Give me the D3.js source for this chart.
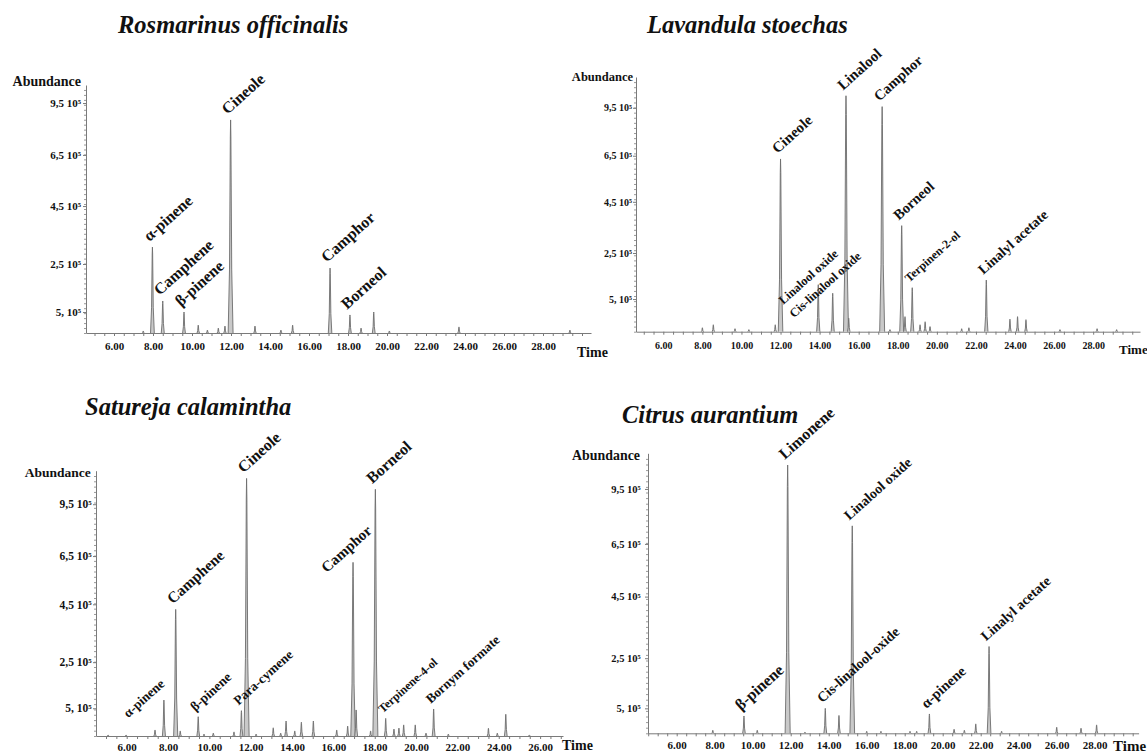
<!DOCTYPE html>
<html>
<head>
<meta charset="utf-8">
<script src="https://cdn.jsdelivr.net/npm/d3@7"></script>
<style>
  body { margin: 0; background: #fff; }
  svg { display: block; }
  text { font-family: "Liberation Serif", "Times New Roman", serif; font-weight: bold; fill: #111; }
</style>
</head>
<body>
<svg id="chart" width="1147" height="754"></svg>
<script>
// ---- Chromatogram peaks: retention time (min) and abundance ----
const rosmarinusTimes = [7.5, 7.97, 8.5, 9.59, 10.32, 10.79, 11.35, 11.69, 11.98, 13.23, 14.56, 15.16, 17.08, 18.1, 18.67, 19.32, 20.12, 23.69, 29.38];
const rosmarinusAbund = [9e3, 3.81e5, 1.42e5, 9.3e4, 3.5e4, 1.3e4, 2.2e4, 3.1e4, 9.45e5, 3.1e4, 1.3e4, 3.5e4, 2.88e5, 8.0e4, 2.2e4, 9.3e4, 9e3, 2.7e4, 1.3e4];
const rosmarinusCompounds = ["α-pinene", "Camphene", "β-pinene", "Cineole", "Camphor", "Borneol"];
const rosmarinusCompoundTimes = [7.97, 8.5, 9.59, 11.98, 17.08, 18.1];

const lavandulaTimes = [8.0, 8.56, 9.67, 10.38, 11.73, 12.0, 13.93, 14.67, 15.35, 15.49, 17.2, 17.6, 18.2, 18.37, 18.74, 19.14, 19.4, 19.65, 21.27, 21.64, 22.53, 23.74, 24.13, 24.56, 26.3, 28.2, 29.2];
const lavandulaAbund = [1.7e4, 3.0e4, 1.3e4, 9e3, 3.0e4, 7.46e5, 2.03e5, 1.66e5, 1.019e6, 5.8e4, 9.72e5, 9e3, 4.58e5, 6.5e4, 1.9e5, 3.0e4, 4.3e4, 2.2e4, 1.3e4, 1.7e4, 2.23e5, 5.4e4, 6.5e4, 5.2e4, 9e3, 1.3e4, 9e3];
const lavandulaCompounds = ["Cineole", "Linalool oxide", "Cis-linalool oxide", "Linalool", "Camphor", "Borneol", "Terpinen-2-ol", "Linalyl acetate"];
const lavandulaCompoundTimes = [12.0, 13.93, 14.67, 15.35, 17.2, 18.2, 18.74, 22.53];

const saturejaTimes = [5.1, 5.97, 7.37, 7.8, 8.37, 8.59, 9.46, 9.74, 10.19, 11.19, 11.55, 11.8, 12.26, 13.09, 13.45, 13.71, 14.13, 14.45, 15.03, 16.16, 16.69, 16.95, 17.1, 17.8, 18.03, 18.53, 18.93, 19.17, 19.4, 19.96, 20.48, 20.85, 21.56, 23.5, 23.93, 24.34, 25.48];
const saturejaAbund = [4e3, 4e3, 2.5e4, 1.49e5, 5.25e5, 2.1e4, 8.0e4, 8e3, 1.2e4, 1.7e4, 1.05e5, 1.068e6, 8e3, 3.4e4, 1.2e4, 6.2e4, 2.1e4, 5.7e4, 6.2e4, 2.5e4, 4.1e4, 7.2e5, 1.08e5, 2.1e4, 1.023e6, 7.3e4, 2.9e4, 3.3e4, 4.6e4, 4.6e4, 1.2e4, 1.12e5, 8e3, 3.2e4, 1.2e4, 9.0e4, 4e3];
const saturejaCompounds = ["α-pinene", "Camphene", "β-pinene", "Para-cymene", "Cineole", "Camphor", "Borneol", "Terpinene-4-ol", "Bornym formate"];
const saturejaCompoundTimes = [7.8, 8.37, 9.46, 11.55, 11.8, 16.95, 18.03, 18.53, 20.85];

const citrusTimes = [7.9, 9.54, 10.24, 11.84, 12.75, 13.82, 14.54, 15.24, 16.0, 16.75, 18.28, 18.63, 19.3, 20.6, 21.14, 21.74, 22.44, 23.1, 26.0, 27.28, 28.1];
const citrusAbund = [1.2e4, 6.8e4, 1.2e4, 1.054e6, 4e3, 9.8e4, 7.0e4, 8.15e5, 8e3, 8e3, 8e3, 8e3, 7.6e4, 1.6e4, 1.2e4, 3.7e4, 3.41e5, 8e3, 2.4e4, 2e4, 3.3e4];
const citrusCompounds = ["β-pinene", "Limonene", "Cis-linalool-oxide", "Linalool oxide", "α-pinene", "Linalyl acetate"];
const citrusCompoundTimes = [9.54, 11.84, 13.82, 15.24, 19.3, 22.44];

// ---- Axis ticks ----
const timeTickValues = [6, 8, 10, 12, 14, 16, 18, 20, 22, 24, 26, 28];
const abundTickMantissa = ["9,5", "6,5", "4,5", "2,5", "5,"];
const abundTickExponent = "5";
const rosmarinusAbundTicks = [1.02e6, 7.9e5, 5.63e5, 3.06e5, 9.3e4];
const lavandulaAbundTicks = [9.67e5, 7.6e5, 5.61e5, 3.4e5, 1.41e5];
const saturejaAbundTicks = [9.61e5, 7.46e5, 5.46e5, 3.06e5, 1.15e5];
const citrusAbundTicks = [9.6e5, 7.44e5, 5.37e5, 2.95e5, 9.8e4];
const abundMax = 1.1e6;

// ---- Panel layout ----
const panels = [
  {
    title: "Rosmarinus officinalis", titleX: 118, titleY: 33,
    times: rosmarinusTimes, abund: rosmarinusAbund,
    names: rosmarinusCompounds, nameTimes: rosmarinusCompoundTimes, yTicks: rosmarinusAbundTicks,
    left: 86, right: 591, x6: 114, ppm: 19.5, base: 333, top: 85,
    abX: 81, abY: 86, abSize: 14, yLabX: 81, yLabSize: 11, xLabY: 350, xLabSize: 11,
    timeX: 577, timeY: 357, timeSize: 14,
    labelSize: 16, labelSizes: {}, labelAt: {}
  },
  {
    title: "Lavandula stoechas", titleX: 647, titleY: 33,
    times: lavandulaTimes, abund: lavandulaAbund,
    names: lavandulaCompounds, nameTimes: lavandulaCompoundTimes, yTicks: lavandulaAbundTicks,
    left: 636, right: 1140, x6: 663.3, ppm: 19.54, base: 331.7, top: 77,
    abX: 633, abY: 81, abSize: 12.5, yLabX: 632, yLabSize: 10, xLabY: 349.5, xLabSize: 10,
    timeX: 1119, timeY: 354, timeSize: 13,
    labelSize: 15,
    labelSizes: { "Linalool oxide": 12.3, "Cis-linalool oxide": 12.3, "Terpinen-2-ol": 12, "Linalyl acetate": 14, "Camphor": 14.5, "Borneol": 14.5 },
    labelAt: { "Linalool oxide": [12.14, 1.153e5], "Cis-linalool oxide": [12.69, 5.79e4] }
  },
  {
    title: "Satureja calamintha", titleX: 85, titleY: 415,
    times: saturejaTimes, abund: saturejaAbund,
    names: saturejaCompounds, nameTimes: saturejaCompoundTimes, yTicks: saturejaAbundTicks,
    left: 96, right: 563, x6: 126.7, ppm: 20.67, base: 736, top: 470.7,
    abX: 90.7, abY: 477, abSize: 13.5, yLabX: 91.7, yLabSize: 11.5, xLabY: 751, xLabSize: 11,
    timeX: 562, timeY: 750, timeSize: 14,
    labelSize: 16,
    labelSizes: { "Camphene": 15.4, "Camphor": 15, "α-pinene": 13.4, "β-pinene": 13.5, "Para-cymene": 13.3, "Terpinene-4-ol": 12, "Bornym formate": 13.2 },
    labelAt: { "α-pinene": [6.08, 7.34e4], "Camphor": [15.68, 6.75e5] }
  },
  {
    title: "Citrus aurantium", titleX: 622, titleY: 423,
    times: citrusTimes, abund: citrusAbund,
    names: citrusCompounds, nameTimes: citrusCompoundTimes, yTicks: citrusAbundTicks,
    left: 648, right: 1138.6, x6: 676.7, ppm: 19.0, base: 733.3, top: 453.3,
    abX: 640, abY: 459.5, abSize: 13.9, yLabX: 640.7, yLabSize: 10.5, xLabY: 749, xLabSize: 11,
    timeX: 1113, timeY: 751, timeSize: 15,
    labelSize: 14,
    labelSizes: { "Limonene": 16, "β-pinene": 16, "α-pinene": 14.6 },
    labelAt: {}
  }
];

const labelAngle = -42;
const axisColor = "#7a7a7a";
const svg = d3.select("#chart");

panels.forEach(p => {
  const g = svg.append("g");
  const tMin = 6 + (p.left - p.x6) / p.ppm;
  const tMax = 6 + (p.right - p.x6) / p.ppm;
  const x = d3.scaleLinear().domain([tMin, tMax]).range([p.left, p.right]);
  const y = d3.scaleLinear().domain([0, abundMax]).range([p.base, p.top]);

  // species title
  g.append("text")
    .attr("x", p.titleX).attr("y", p.titleY)
    .style("font-size", "24.5px").style("font-style", "italic")
    .text(p.title);

  // x axis: half-minute ticks, labels every two minutes
  const minorT = d3.range(Math.ceil(tMin * 2) / 2, tMax, 0.5);
  const xLabelled = new Set(timeTickValues.filter(t => t < tMax - 0.3));
  const xAxis = d3.axisBottom(x)
    .tickValues(minorT)
    .tickSize(3).tickSizeOuter(0)
    .tickPadding(p.xLabY - p.base - 3 - 0.71 * p.xLabSize)
    .tickFormat(t => xLabelled.has(t) ? d3.format(".2f")(t) : "");
  const gx = g.append("g").attr("transform", `translate(0,${p.base})`).call(xAxis);
  gx.select(".domain").attr("stroke", axisColor);
  gx.selectAll(".tick line").attr("stroke", axisColor);
  gx.selectAll(".tick text")
    .style("font-family", '"Liberation Serif", serif').style("font-weight", "bold")
    .style("font-size", p.xLabSize + "px").attr("fill", "#111");

  // y axis: fine minor ticks
  const yMinor = d3.axisLeft(y)
    .tickValues(d3.range(0, abundMax, 2.2e4))
    .tickSize(2).tickSizeOuter(0).tickFormat("");
  const gy = g.append("g").attr("transform", `translate(${p.left},0)`).call(yMinor);
  gy.select(".domain").attr("stroke", axisColor);
  gy.selectAll(".tick line").attr("stroke", "#9a9a9a");

  // y axis: labelled ticks
  const yMajor = d3.axisLeft(y)
    .tickValues(p.yTicks).tickSize(3).tickSizeOuter(0)
    .tickPadding(p.left - p.yLabX - 3)
    .tickFormat("");
  const gyM = g.append("g").attr("transform", `translate(${p.left},0)`).call(yMajor);
  gyM.select(".domain").remove();
  gyM.selectAll(".tick line").attr("stroke", axisColor);
  gyM.selectAll(".tick text").each(function (d, i) {
    const t = d3.select(this)
      .style("font-family", '"Liberation Serif", serif').style("font-weight", "bold")
      .style("font-size", p.yLabSize + "px").attr("fill", "#111");
    t.append("tspan").text(abundTickMantissa[i] + " 10");
    t.append("tspan").attr("dy", "-0.45em").style("font-size", (p.yLabSize * 0.6) + "px").text(abundTickExponent);
  });

  // axis titles
  g.append("text").attr("x", p.abX).attr("y", p.abY)
    .attr("text-anchor", "end").style("font-size", p.abSize + "px").text("Abundance");
  g.append("text").attr("x", p.timeX).attr("y", p.timeY)
    .style("font-size", p.timeSize + "px").text("Time");

  // peaks
  const peaks = p.times.map((t, i) => ({ t, v: p.abund[i] }));
  const shape = [[-1, 0], [-0.45, 0.3], [-0.12, 0.92], [0, 1], [0.12, 0.92], [0.45, 0.3], [1, 0]];
  const line = d3.line();
  g.append("g").selectAll("path").data(peaks).join("path")
    .attr("d", d => {
      const cx = x(d.t), y0 = y(0), h = y(0) - y(d.v);
      const hw = 0.9 + 1.6 * Math.sqrt(d.v / 1e6);
      return line(shape.map(([dx, f]) => [cx + dx * hw, y0 - f * h]));
    })
    .attr("fill", "#c9c9c9").attr("stroke", "#6d6d6d").attr("stroke-width", 0.9)
    .attr("stroke-linejoin", "round");

  // compound labels
  const labels = p.names.map((name, i) => {
    const pk = peaks.find(d => d.t === p.nameTimes[i]);
    const at = p.labelAt[name];
    const px = at ? x(at[0]) : x(pk.t) - 3;
    const py = at ? y(at[1]) : y(pk.v) - 5;
    return { name, px, py, size: p.labelSizes[name] || p.labelSize };
  });
  g.append("g").selectAll("text").data(labels).join("text")
    .attr("transform", d => `translate(${d.px},${d.py}) rotate(${labelAngle})`)
    .style("font-size", d => d.size + "px")
    .text(d => d.name);
});
</script>
</body>
</html>
